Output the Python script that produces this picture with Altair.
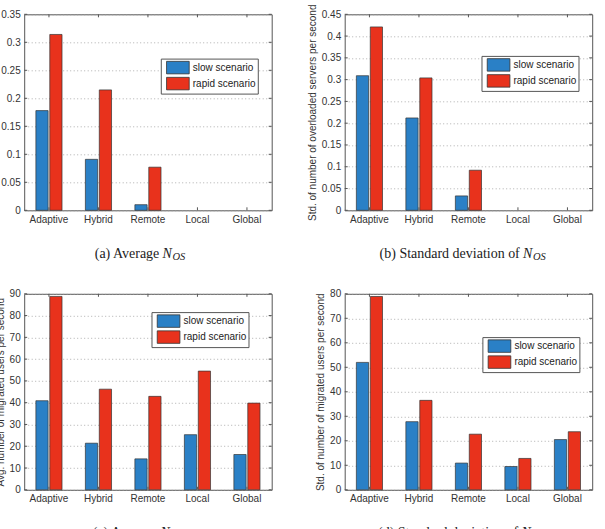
import altair as alt
import pandas as pd

# Categories and series
methods = ["Adaptive", "Hybrid", "Remote", "Local", "Global"]
scenarios = ["slow scenario", "rapid scenario"]

avg_nos_slow = [0.178, 0.091, 0.010, 0.0, 0.0]
avg_nos_rapid = [0.314, 0.215, 0.077, 0.0, 0.0]
std_nos_slow = [0.309, 0.212, 0.033, 0.0, 0.0]
std_nos_rapid = [0.421, 0.304, 0.092, 0.0, 0.0]
avg_nmu_slow = [40.9, 21.4, 14.2, 25.3, 16.2]
avg_nmu_rapid = [88.8, 46.2, 42.9, 54.5, 39.8]
std_nmu_slow = [52.0, 27.8, 10.9, 9.5, 20.5]
std_nmu_rapid = [78.9, 36.5, 22.7, 12.8, 23.7]

# Tick labels
ticks_avg_nos = [0, 0.05, 0.1, 0.15, 0.2, 0.25, 0.3, 0.35]
ticks_std_nos = [0, 0.05, 0.1, 0.15, 0.2, 0.25, 0.3, 0.35, 0.4, 0.45]
ticks_avg_nmu = [0, 10, 20, 30, 40, 50, 60, 70, 80, 90]
ticks_std_nmu = [0, 10, 20, 30, 40, 50, 60, 70, 80]

# Axis titles and captions
y_titles = [
    "Avg. number of overloaded servers per second",
    "Std. of number of overloaded servers per second",
    "Avg. number of migrated users per second",
    "Std. of number of migrated users per second",
]
caption_text = ["(a) Average", "(b) Standard deviation of", "(c) Average", "(d) Standard deviation of"]
caption_sub = ["OS", "OS", "MU", "MU"]

W, H = 247.5, 196
BLUE = "#2a80c6"
RED = "#e8321c"
FRAME = "#555555"
TEXT = "#333333"
SANS = "Liberation Sans"
SERIF = "Liberation Serif"

# wide legend swatch, drawn to the right of the symbol anchor
SWATCH = "M-0.52,-1L3.11,-1L3.11,1L-0.52,1Z"


def panel(slow, rapid, ticks, ytitle, cap, sub, legend_x, legend_y, anchor):
    df = pd.DataFrame({
        "method": methods * 2,
        "scenario": [scenarios[0]] * len(methods) + [scenarios[1]] * len(methods),
        "value": slow + rapid,
    })
    yscale = alt.Scale(domain=[0, ticks[-1]], nice=False, zero=True)
    xscale = alt.Scale(domain=methods, paddingInner=0, paddingOuter=0)
    xaxis = alt.Axis(title=None, labelAngle=0, ticks=False, domain=False,
                     labelFont=SANS, labelFontSize=10, labelColor=TEXT, labelPadding=4)
    yaxis = alt.Axis(title=ytitle, values=ticks, format=".2~f", ticks=False, domain=False,
                     grid=True, gridColor="#9a9a9a", gridDash=[1, 2.5], gridWidth=0.8,
                     labelFont=SANS, labelFontSize=10, labelColor=TEXT, labelPadding=4,
                     titleFont=SANS, titleFontSize=10, titleFontWeight="normal",
                     titleColor=TEXT, titlePadding=4)

    bars = alt.Chart(df).transform_filter("datum.value > 0").mark_bar(
        stroke="#333333", strokeWidth=0.7).encode(
        x=alt.X("method:N", sort=methods, scale=xscale, axis=xaxis),
        xOffset=alt.XOffset("scenario:N", sort=scenarios,
                            scale=alt.Scale(domain=scenarios, paddingInner=0.12, paddingOuter=0.84)),
        y=alt.Y("value:Q", scale=yscale, axis=yaxis),
        color=alt.Color("scenario:N", sort=scenarios,
                        scale=alt.Scale(domain=scenarios, range=[BLUE, RED]),
                        legend=alt.Legend(title=None, orient="none", legendX=legend_x, legendY=legend_y,
                                          symbolType=SWATCH, symbolSize=156,
                                          symbolStrokeColor="#333333", symbolStrokeWidth=0.8,
                                          symbolOffset=0, labelOffset=16,
                                          labelFont=SANS, labelFontSize=10, labelColor="#222222",
                                          rowPadding=0, padding=2, strokeColor=FRAME,
                                          fillColor="white", labelLimit=200)),
    )

    # inward ticks on all four sides of the box
    tick_df = pd.DataFrame({"value": ticks})
    y_left = alt.Chart(tick_df).mark_rule(color=FRAME, strokeWidth=1).encode(
        y=alt.Y("value:Q", scale=yscale, axis=yaxis), x=alt.value(0), x2=alt.value(3))
    y_right = alt.Chart(tick_df).mark_rule(color=FRAME, strokeWidth=1).encode(
        y=alt.Y("value:Q", scale=yscale, axis=yaxis), x=alt.value(W - 3), x2=alt.value(W))
    m_df = pd.DataFrame({"method": methods})
    x_bottom = alt.Chart(m_df).mark_rule(color=FRAME, strokeWidth=1).encode(
        x=alt.X("method:N", sort=methods, scale=xscale, axis=xaxis), y=alt.value(H - 3), y2=alt.value(H))
    x_top = alt.Chart(m_df).mark_rule(color=FRAME, strokeWidth=1).encode(
        x=alt.X("method:N", sort=methods, scale=xscale, axis=xaxis), y=alt.value(0), y2=alt.value(3))

    # caption below the panel: text, italic N and subscript
    cap_y = H + 47.5
    c1 = alt.Chart(pd.DataFrame({"t": [cap]})).mark_text(
        align="right", baseline="alphabetic", font=SERIF, fontSize=14, color="#222222").encode(
        text="t:N", x=alt.value(anchor - 13.2), y=alt.value(cap_y))
    c2 = alt.Chart(pd.DataFrame({"t": ["N"]})).mark_text(
        align="left", baseline="alphabetic", font=SERIF, fontSize=14, fontStyle="italic",
        color="#222222").encode(text="t:N", x=alt.value(anchor - 10), y=alt.value(cap_y))
    c3 = alt.Chart(pd.DataFrame({"t": [sub]})).mark_text(
        align="left", baseline="alphabetic", font=SERIF, fontSize=10.5, fontStyle="italic",
        color="#222222").encode(text="t:N", x=alt.value(anchor), y=alt.value(cap_y + 2.5))

    return alt.layer(bars, y_left, y_right, x_bottom, x_top, c1, c2, c3).properties(width=W, height=H)


pa = panel(avg_nos_slow, avg_nos_rapid, ticks_avg_nos, y_titles[0], caption_text[0], caption_sub[0],
           136.6, 44.3, 148.3)
pb = panel(std_nos_slow, std_nos_rapid, ticks_std_nos, y_titles[1], caption_text[1], caption_sub[1],
           136.8, 41.6, 188.3)
pc = panel(avg_nmu_slow, avg_nmu_rapid, ticks_avg_nmu, y_titles[2], caption_text[2], caption_sub[2],
           127.3, 18.3, 146.3)
pd_ = panel(std_nmu_slow, std_nmu_rapid, ticks_std_nmu, y_titles[3], caption_text[3], caption_sub[3],
            137.7, 43.3, 186.7)

chart = alt.concat(pa, pb, pc, pd_, columns=2, spacing={"row": 83.5, "column": 72.5}, bounds="flush").resolve_scale(
    color="independent", y="independent", x="independent", xOffset="independent"
).configure_view(stroke=FRAME, strokeWidth=1).properties(
    padding={"left": -13.8, "top": 3.3, "right": 2, "bottom": 0},
    background="white",
)

chart.save("out.html", embed_options={"renderer": "svg", "actions": False})
